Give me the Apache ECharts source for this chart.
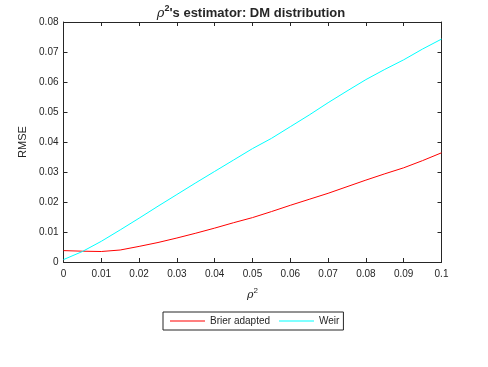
<!DOCTYPE html>
<html>
<head>
<meta charset="utf-8">
<script src="https://cdn.jsdelivr.net/npm/echarts@6/dist/echarts.min.js"></script>
<style>
  html, body { margin: 0; padding: 0; background: #fff; }
  #chart { width: 488px; height: 367px; }
</style>
</head>
<body>
<div id="chart"></div>
<script>
// rho^2 values along x
var rho2 = [0, 0.005, 0.01, 0.015, 0.02, 0.025, 0.03, 0.035, 0.04, 0.045, 0.05,
            0.055, 0.06, 0.065, 0.07, 0.075, 0.08, 0.085, 0.09, 0.095, 0.1];
// RMSE, Brier adapted (red)
var brier = [0.0038, 0.0036, 0.0035, 0.0040, 0.0052, 0.0065, 0.0080, 0.0096, 0.0113, 0.0131, 0.0148,
             0.0168, 0.0189, 0.0209, 0.0229, 0.0251, 0.0273, 0.0294, 0.0314, 0.0338, 0.0364];
// RMSE, Weir (cyan)
var weir = [0.0008, 0.0035, 0.0069, 0.0107, 0.0146, 0.0186, 0.0225, 0.0264, 0.0302, 0.0340, 0.0378,
            0.0412, 0.0451, 0.0490, 0.0531, 0.0570, 0.0608, 0.0642, 0.0674, 0.0710, 0.0743];

var seriesNames = ['Brier adapted', 'Weir'];
var colors = ['#ff0000', '#00ffff'];
var textCol = '#262626';
var font = 'Liberation Sans, Arial, sans-serif';

function pairs(ys) {
    var out = [];
    for (var i = 0; i < rho2.length; i++) out.push([rho2[i], ys[i]]);
    return out;
}
function fmt(v) { return String(Math.round(v * 100) / 100); }

var chart = echarts.init(document.getElementById('chart'));

function axis(extra) {
    var a = {
        type: 'value',
        axisLine: { show: true, onZero: false, lineStyle: { color: textCol, width: 1 } },
        axisTick: { show: true, inside: true, length: 4, lineStyle: { color: textCol } },
        splitLine: { show: false }
    };
    for (var k in extra) a[k] = extra[k];
    return a;
}

var option = {
    animation: false,
    backgroundColor: '#fff',
    textStyle: { fontFamily: font },
    grid: { left: 63.5, top: 22, right: 46.5, bottom: 105, containLabel: false },
    graphic: [{
        type: 'text',
        x: 251, y: 2,
        style: {
            text: '{r|ρ}{s|2}{b|\'s estimator: DM distribution}',
            textAlign: 'center',
            rich: {
                r: { fontFamily: 'DejaVu Serif, serif', fontStyle: 'italic', fontSize: 13, fill: textCol, padding: [5, 0, 0, 0] },
                s: { fontFamily: font, fontWeight: 'bold', fontSize: 9, fill: textCol, padding: [0, 0, 5, 0] },
                b: { fontFamily: font, fontWeight: 'bold', fontSize: 13, fill: textCol, padding: [5, 0, 0, 0] }
            }
        }
    }],
    legend: {
        data: [
            { name: seriesNames[0], icon: 'rect', itemStyle: { color: colors[0] } },
            { name: seriesNames[1], icon: 'rect', itemStyle: { color: colors[1] } }
        ],
        left: 163, top: 312,
        orient: 'horizontal',
        itemWidth: 35, itemHeight: 1, itemGap: 9,
        padding: [4, 4, 4, 7],
        borderColor: textCol, borderWidth: 1, borderRadius: 0,
        textStyle: { color: textCol, fontSize: 10, fontFamily: font, padding: [0, 0, 0, 0] }
    },
    xAxis: [
        axis({
            min: 0, max: 0.1, interval: 0.01, position: 'bottom',
            axisLabel: { color: textCol, fontSize: 10, margin: 7, formatter: fmt },
            name: '{i|ρ}{s|2}',
            nameLocation: 'middle', nameGap: 22,
            nameTextStyle: {
                rich: {
                    i: { fontFamily: 'DejaVu Serif, serif', fontStyle: 'italic', fontSize: 11, color: textCol, padding: [6, 0, 0, 0] },
                    s: { fontFamily: font, fontSize: 8, color: textCol, padding: [0, 0, 4, 0] }
                }
            }
        }),
        axis({
            min: 0, max: 0.1, interval: 0.01, position: 'top',
            axisLabel: { show: false }
        })
    ],
    yAxis: [
        axis({
            min: 0, max: 0.08, interval: 0.01, position: 'left',
            axisLabel: { color: textCol, fontSize: 10, margin: 5, formatter: fmt },
            name: 'RMSE', nameLocation: 'middle', nameGap: 28,
            nameTextStyle: { color: textCol, fontSize: 11, fontFamily: font }
        }),
        axis({
            min: 0, max: 0.08, interval: 0.01, position: 'right',
            axisLabel: { show: false }
        })
    ],
    series: [
        {
            name: seriesNames[0], type: 'line', data: pairs(brier),
            symbol: 'none', smooth: false,
            lineStyle: { color: colors[0], width: 1 },
            itemStyle: { color: colors[0] }
        },
        {
            name: seriesNames[1], type: 'line', data: pairs(weir),
            symbol: 'none', smooth: false,
            lineStyle: { color: colors[1], width: 1 },
            itemStyle: { color: colors[1] }
        }
    ]
};
chart.setOption(option);
</script>
</body>
</html>
